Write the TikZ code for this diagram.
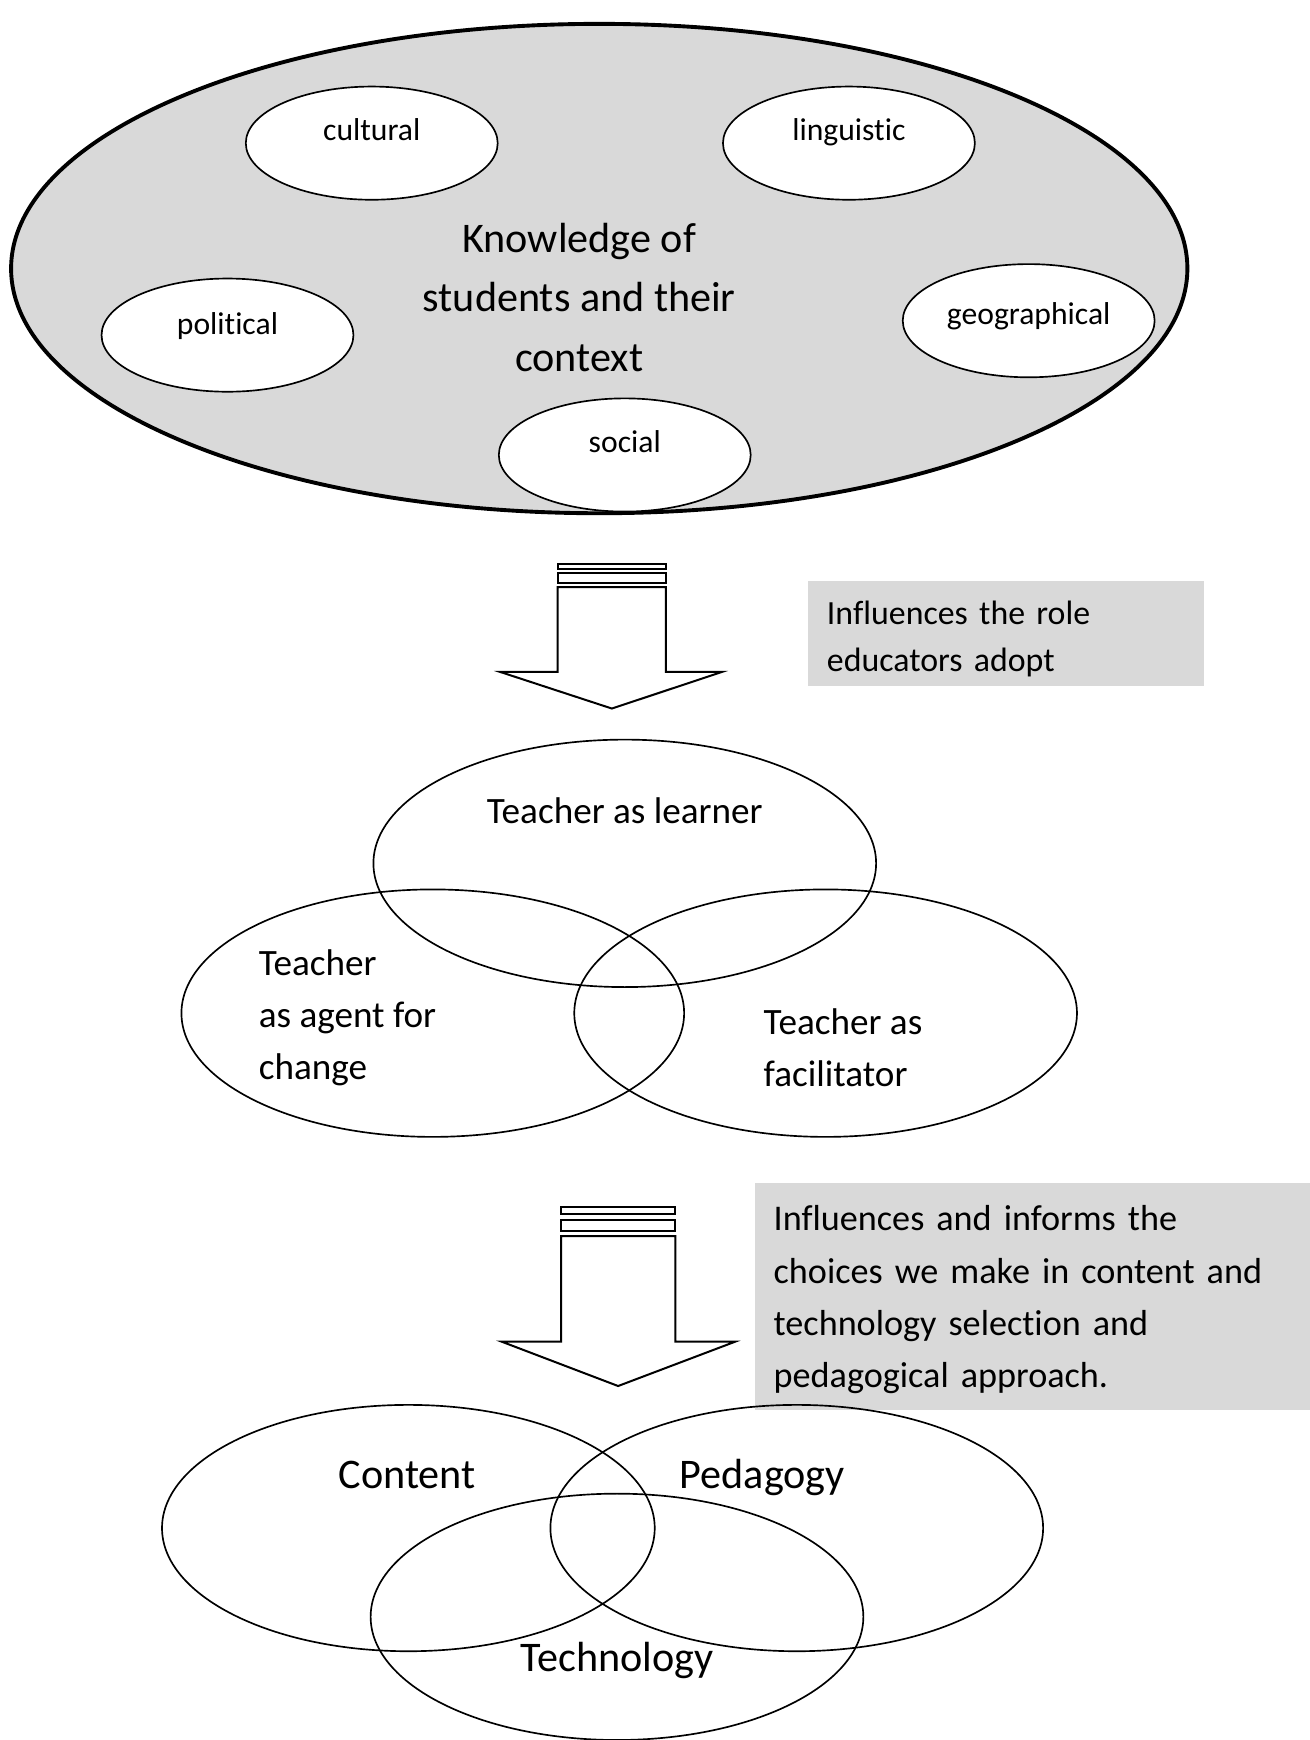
\documentclass[tikz,border=0pt]{standalone}
\usepackage{fontspec}
\setmainfont{Carlito}[Ligatures=NoCommon]
\usetikzlibrary{shapes.geometric,positioning}

\definecolor{shade}{HTML}{D9D9D9}

\tikzset{
  facetnode/.style={draw,ellipse,fill=white,line width=1.5pt,minimum width=227pt,minimum height=102pt,inner sep=0pt},
  facettext/.style={font=\fontsize{28.5}{34}\selectfont},
  rolenode/.style={draw,ellipse,line width=1.5pt,minimum width=453pt,minimum height=223pt,inner sep=0pt},
  roletext/.style={font=\fontsize{33.5}{47}\selectfont,align=left,inner sep=0pt},
  tpcknode/.style={draw,ellipse,line width=1.5pt,minimum width=444pt,minimum height=222pt,inner sep=0pt},
  tpcktext/.style={font=\fontsize{38}{46}\selectfont,anchor=base},
  notebox/.style={fill=shade,anchor=north west,inner sep=0pt},
  notetext/.style={align=left,inner sep=0pt},
  blockarrow/.style={draw,line width=1.8pt,fill=white,line join=miter},
}

\begin{document}
\begin{tikzpicture}[x=1pt,y=-1pt]
\useasboundingbox (0,0) rectangle (1180,1568);

% knowledge of students
\node[draw,ellipse,fill=shade,line width=3.5pt,minimum width=1060pt,minimum height=441pt] (context) at (540,242) {};
\node[font=\fontsize{38}{53.5}\selectfont,align=center] (knowledge) at (522,268) {Knowledge of\\students and their\\context};
\node[facetnode,label={[facettext,yshift=12pt]center:cultural}] (cultural) at (335,129) {};
\node[facetnode,label={[facettext,yshift=10pt]center:linguistic}] (linguistic) at (765,129) {};
\node[facetnode,label={[facettext,yshift=8pt]center:political}] (political) at (205,302) {};
\node[facetnode,label={[facettext,yshift=4pt]center:geographical}] (geographical) at (927,289) {};
\node[facetnode,label={[facettext,yshift=12pt]center:social}] (social) at (563,410) {};

% first arrow
\draw[blockarrow] (502.4,508.4) rectangle (600,513);
\draw[blockarrow] (502.4,516) rectangle (600,525);
\draw[blockarrow] (502.4,529) -- (502.4,605.5) -- (450.7,605.5) -- (551.4,638.5)
  -- (650.6,605.5) -- (600,605.5) -- (600,529) -- cycle;
\node[notebox,minimum width=357pt,minimum height=95pt] (roleinfo) at (728,523) {};
\node[notetext,font=\fontsize{30.5}{43}\selectfont,text width=323pt] at ([yshift=-5pt]roleinfo.center)
  {Influences the role\\educators adopt};

% roles of the teacher
\node[rolenode] (learner) at (563,778) {};
\node[rolenode] (agent) at (390,913) {};
\node[rolenode] (facilitator) at (744,913) {};
\node[roletext] at (563,731) {Teacher as learner};
\node[roletext,anchor=west] at (233,917) {Teacher\\as agent for\\change};
\node[roletext,anchor=west] at (688,944.5) {Teacher as\\facilitator};

% second arrow
\draw[blockarrow] (505.7,1088) rectangle (608.5,1094);
\draw[blockarrow] (505.7,1099) rectangle (608.5,1109);
\draw[blockarrow] (505.7,1114) -- (505.7,1209) -- (452,1209) -- (557,1249)
  -- (662.6,1209) -- (608.5,1209) -- (608.5,1114) -- cycle;
\node[notebox,minimum width=500pt,minimum height=204pt] (choiceinfo) at (680,1066) {};
\node[notetext,font=\fontsize{32.6}{47}\selectfont,text width=466pt] at ([yshift=-3pt]choiceinfo.center)
  {Influences and informs the\\choices we make in content and\\technology selection and\\pedagogical approach.};

% content, pedagogy, technology
\node[tpcknode] (content) at (368,1377) {};
\node[tpcknode] (pedagogy) at (718,1377) {};
\node[tpcknode] (technology) at (556,1457) {};
\node[tpcktext] at (367,1341) {Content};
\node[tpcktext] at (687,1341) {Pedagogy};
\node[tpcktext] at (556,1506) {Technology};
\end{tikzpicture}
\end{document}
